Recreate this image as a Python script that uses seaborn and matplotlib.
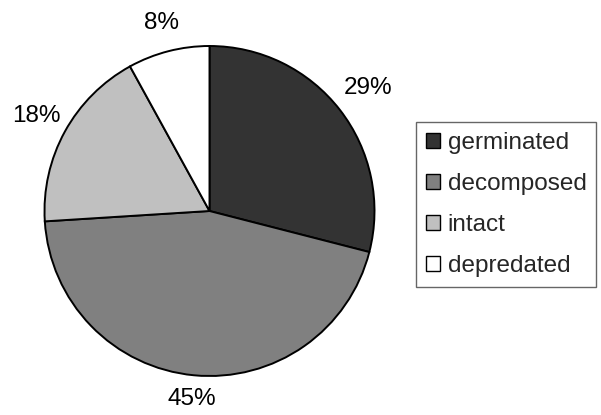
import matplotlib
matplotlib.use("Agg")
import matplotlib.pyplot as plt
import numpy as np
import seaborn as sns

# Fate of seeds, share of each outcome
categories = ["germinated", "decomposed", "intact", "depredated"]
shares = [29, 45, 18, 8]
slice_colors = ["#333333", "#808080", "#c0c0c0", "#ffffff"]
# radial distance of each percentage label, in pie radii
label_dist = [1.22, 1.145, 1.2, 1.175]

sns.set_theme(style="white")
plt.rcParams["font.family"] = ["Liberation Sans", "DejaVu Sans"]

W, H = 601, 415
fig = plt.figure(figsize=(W / 100, H / 100), dpi=100)
fig.patch.set_facecolor("white")

# square axes holding the pie, in pixel terms
cx, cy, r = 209.5, 211, 165
ax = fig.add_axes([(cx - r) / W, (H - cy - r) / H, 2 * r / W, 2 * r / H])

wedges, _, autotexts = ax.pie(
    shares,
    colors=slice_colors,
    startangle=90,
    counterclock=False,
    autopct="%d%%",
    pctdistance=1.0,
    radius=1.0,
    wedgeprops=dict(edgecolor="black", linewidth=1.4),
    textprops=dict(fontsize=17.5, color="black"),
)
# push each percentage out along its wedge's mid-angle
for w, t, d in zip(wedges, autotexts, label_dist):
    ang = np.deg2rad((w.theta1 + w.theta2) / 2)
    t.set_position((d * np.cos(ang), d * np.sin(ang)))
ax.set_xlim(-1, 1)
ax.set_ylim(-1, 1)
ax.axis("off")

leg = fig.legend(
    wedges,
    categories,
    loc="upper left",
    bbox_to_anchor=(416 / W, (H - 122) / H),
    frameon=True,
    fancybox=False,
    fontsize=17.5,
    handlelength=0.58,
    handleheight=0.58,
    handletextpad=0.33,
    labelspacing=0.79,
    borderpad=0.4,
    borderaxespad=0,
)
leg.get_frame().set_edgecolor("#404040")
leg.get_frame().set_linewidth(1.0)
for h in leg.legend_handles:
    h.set_linewidth(1.0)
    h.set_edgecolor("black")

fig.savefig("out.png", dpi=100, facecolor="white")
